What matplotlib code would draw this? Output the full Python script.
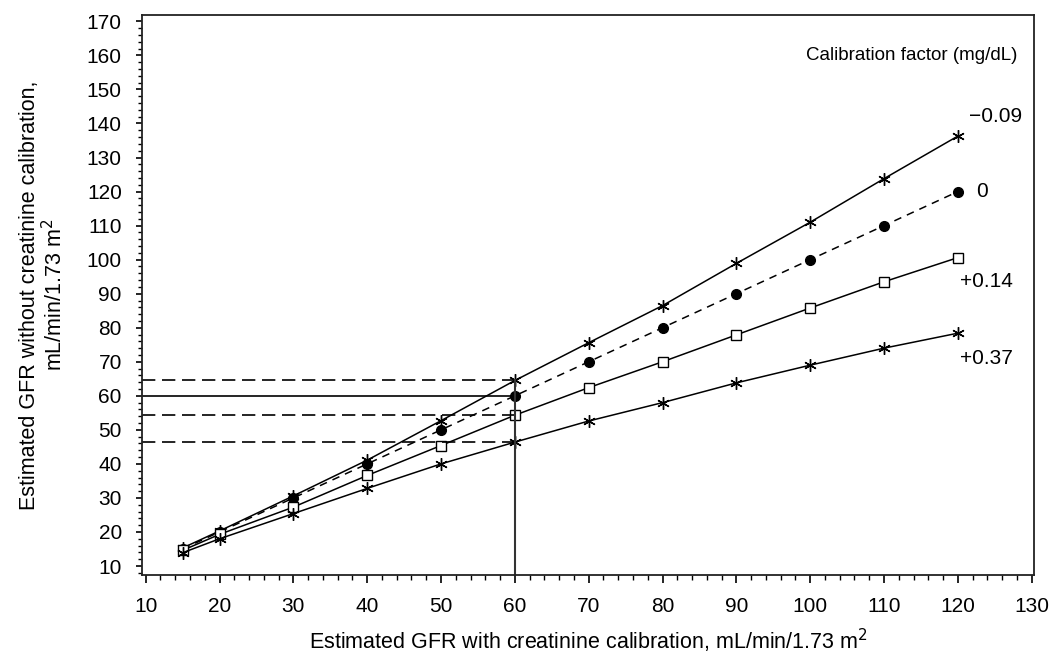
import numpy as np
from matplotlib import pyplot as plt
from matplotlib.ticker import MultipleLocator

plt.rcParams['font.family'] = ['Liberation Sans', 'DejaVu Sans']

### data
gfr_cal = [15, 20, 30, 40, 50, 60, 70, 80, 90, 100, 110, 120]
gfr_m009 = [15.3, 20.3, 30.6, 41.1, 52.7, 64.5, 75.6, 86.5, 98.9, 111.0, 123.8, 136.3]
gfr_0 = [15, 20, 30, 40, 50, 60, 70, 80, 90, 100, 110, 120]
gfr_p014 = [14.6, 19.3, 27.3, 36.6, 45.4, 54.3, 62.4, 70.0, 77.9, 85.8, 93.5, 100.6]
gfr_p037 = [13.9, 18.0, 25.4, 32.8, 40.0, 46.4, 52.6, 58.0, 63.8, 69.0, 74.0, 78.4]
factor_labels = ['\u22120.09', '0', '+0.14', '+0.37']

ref_x = 60

fig = plt.figure(figsize=(10.55, 6.57), dpi=100)
ax = fig.add_axes([0.1346, 0.1248, 0.8454, 0.852])

star = (6, 2, 0)
ax.plot(gfr_cal, gfr_m009, color='black', lw=1.1, marker=star, ms=9, mew=1.0)
ax.plot(gfr_cal, gfr_0, color='black', lw=1.1, ls=(0, (5, 4)), marker='o', ms=7)
ax.plot(gfr_cal, gfr_p014, color='black', lw=1.1, marker='s', ms=7, mfc='white', mew=1.0)
ax.plot(gfr_cal, gfr_p037, color='black', lw=1.1, marker=star, ms=9, mew=1.0)

# reference lines at GFR 60
i60 = gfr_cal.index(ref_x)
ax.plot([9.5, ref_x], [gfr_m009[i60]] * 2, color='black', lw=1.2, ls=(0, (8, 4)))
ax.plot([9.5, ref_x], [gfr_0[i60]] * 2, color='black', lw=1.2)
ax.plot([9.5, ref_x], [gfr_p014[i60]] * 2, color='black', lw=1.2, ls=(0, (8, 4)))
ax.plot([9.5, ref_x], [gfr_p037[i60]] * 2, color='black', lw=1.2, ls=(0, (8, 4)))
ax.plot([ref_x, ref_x], [7.36, gfr_m009[i60]], color='#333333', lw=1.5)

ax.set_xlim(9.5, 130.3)
ax.set_ylim(7.36, 171.8)
ax.xaxis.set_major_locator(MultipleLocator(10))
ax.xaxis.set_minor_locator(MultipleLocator(2))
ax.yaxis.set_major_locator(MultipleLocator(10))
ax.yaxis.set_minor_locator(MultipleLocator(2))
ax.tick_params(which='both', direction='out', labelsize=15)
ax.tick_params(axis='x', which='major', length=6, width=1.2, pad=9.5)
ax.tick_params(axis='x', which='minor', length=3.8, width=1.0)
ax.tick_params(axis='y', which='major', length=4.5, width=1.2, pad=10)
ax.tick_params(axis='y', which='minor', length=3, width=1.0)
for s in ax.spines.values():
    s.set_linewidth(1.3)
    s.set_color('#222222')

ax.set_xlabel('Estimated GFR with creatinine calibration, mL/min/1.73 m$^2$', fontsize=15.5, labelpad=8)
ax.set_ylabel('Estimated GFR without creatinine calibration,\nmL/min/1.73 m$^2$', fontsize=15.5,
              labelpad=14, linespacing=1.1)

ax.text(128.1, 160, 'Calibration factor (mg/dL)', fontsize=13.5, ha='right', va='center')
ax.text(128.7, 142.2, factor_labels[0], fontsize=15, ha='right', va='center')
ax.text(122.5, 120.0, factor_labels[1], fontsize=15, ha='left', va='center')
ax.text(123.9, 93.7, factor_labels[2], fontsize=15, ha='center', va='center')
ax.text(123.9, 71.0, factor_labels[3], fontsize=15, ha='center', va='center')

fig.savefig('out.png', dpi=100)
